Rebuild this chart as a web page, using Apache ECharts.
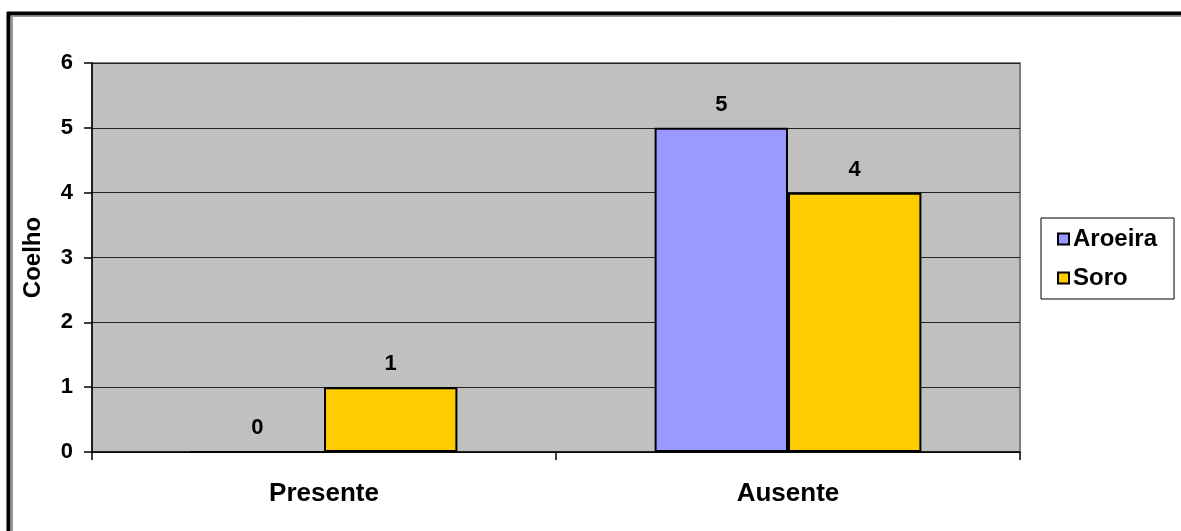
<!DOCTYPE html>
<html>
<head>
<meta charset="utf-8">
<script src="https://cdn.jsdelivr.net/npm/echarts@6/dist/echarts.min.js"></script>
<style>
  html, body { margin: 0; padding: 0; background: #ffffff; }
  #chart { width: 1181px; height: 531px; }
</style>
</head>
<body>
<div id="chart"></div>
<script>
// Categories and series values
const categories = ['Presente', 'Ausente'];
const aroeira = [0, 5];
const soro = [1, 4];
const yTicks = { min: 0, max: 6, interval: 1 };
const axisName = 'Coelho';

const FONT = "'Liberation Sans', Arial, sans-serif";

const chart = echarts.init(document.getElementById('chart'), null, { renderer: 'canvas' });

const labelStyle = {
  show: true,
  position: 'top',
  distance: 12,
  color: '#000',
  fontFamily: FONT,
  fontWeight: 'bold',
  fontSize: 22
};

chart.setOption({
  backgroundColor: '#ffffff',
  animation: false,
  textStyle: { fontFamily: FONT },
  grid: {
    left: 92, top: 63, right: 161, bottom: 79,
    show: true,
    backgroundColor: '#C0C0C0',
    borderColor: '#808080',
    borderWidth: 2
  },
  legend: {
    orient: 'vertical',
    left: 1041,
    top: 218,
    padding: [9, 17, 9, 16],
    itemGap: 15,
    itemWidth: 11,
    itemHeight: 11,
    icon: 'rect',
    backgroundColor: '#ffffff',
    borderColor: '#000',
    borderWidth: 1,
    textStyle: { fontFamily: FONT, fontWeight: 'bold', fontSize: 24, color: '#000', padding: [0, 0, 0, -1] },
    data: ['Aroeira', 'Soro']
  },
  xAxis: {
    type: 'category',
    data: categories,
    axisLine: { show: true, lineStyle: { color: '#000', width: 1.5 } },
    axisTick: { show: true, length: 8, lineStyle: { color: '#000', width: 1.5 } },
    axisLabel: { color: '#000', fontFamily: FONT, fontWeight: 'bold', fontSize: 26, margin: 29 },
    splitLine: { show: false }
  },
  yAxis: {
    type: 'value',
    min: yTicks.min,
    max: yTicks.max,
    interval: yTicks.interval,
    name: axisName,
    nameLocation: 'middle',
    nameRotate: 90,
    nameGap: 47,
    nameTextStyle: { color: '#000', fontFamily: FONT, fontWeight: 'bold', fontSize: 24 },
    axisLine: { show: true, lineStyle: { color: '#000', width: 1.5 } },
    axisTick: { show: true, length: 8, lineStyle: { color: '#000', width: 1.5 } },
    axisLabel: { color: '#000', fontFamily: FONT, fontWeight: 'bold', fontSize: 22, margin: 19 },
    splitLine: { show: true, lineStyle: { color: '#222', width: 1 } }
  },
  series: [
    {
      name: 'Aroeira',
      type: 'bar',
      data: aroeira,
      barGap: '0%',
      barCategoryGap: '42.5%',
      itemStyle: { color: '#9999FF', borderColor: '#000', borderWidth: 2 },
      label: labelStyle
    },
    {
      name: 'Soro',
      type: 'bar',
      data: soro,
      barGap: '0%',
      barCategoryGap: '42.5%',
      itemStyle: { color: '#FFCC00', borderColor: '#000', borderWidth: 2 },
      label: labelStyle
    }
  ],
  graphic: [
    // outer frame: heavy line with a thin inner line, left and top edges
    { type: 'line', shape: { x1: 8.5, y1: 12, x2: 8.5, y2: 531 }, style: { stroke: '#000', lineWidth: 4 } },
    { type: 'line', shape: { x1: 7, y1: 13.5, x2: 1181, y2: 13.5 }, style: { stroke: '#000', lineWidth: 4 } },
    { type: 'line', shape: { x1: 12, y1: 16, x2: 12, y2: 531 }, style: { stroke: '#333', lineWidth: 1 } },
    { type: 'line', shape: { x1: 11, y1: 16.5, x2: 1181, y2: 16.5 }, style: { stroke: '#999', lineWidth: 1 } }
  ]
});
</script>
</body>
</html>
